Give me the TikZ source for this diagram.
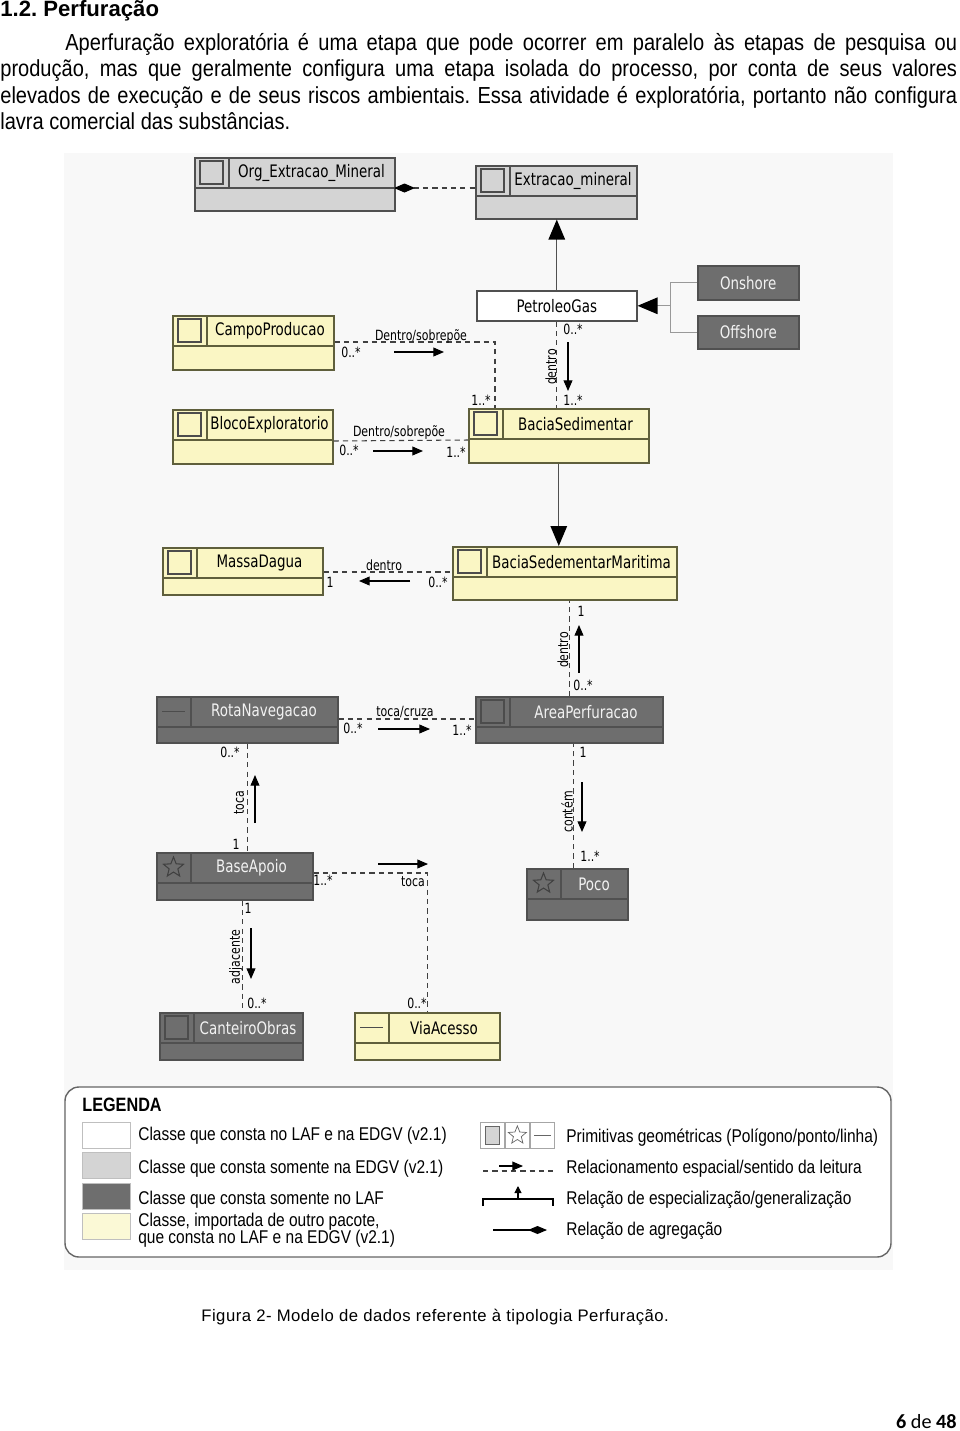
\documentclass[tikz,border=0pt]{standalone}
\usepackage{fontspec}
\setmainfont{Liberation Sans}
\newfontfamily\narrowfont[FakeStretch=0.865]{Liberation Sans}
\newfontfamily\legfont[FakeStretch=0.84]{Liberation Sans}
\newfontfamily\umlfont[FakeStretch=0.78]{DejaVu Sans}
\newfontfamily\pagefont{Carlito}
\usepackage{tikz}
\usetikzlibrary{positioning, arrows.meta, calc, shapes.geometric}
\definecolor{lgray}{RGB}{212,212,212}
\definecolor{dgray}{RGB}{110,110,110}
\definecolor{yel}{RGB}{250,246,196}
\definecolor{edge}{RGB}{80,80,80}
\definecolor{olive}{RGB}{95,95,60}
\definecolor{bg}{RGB}{248,248,248}
\frenchspacing

\tikzset{
  cls/.style={rectangle, anchor=north west, inner sep=0pt, line width=0.9pt},
  clslgray/.style={cls, draw=edge, fill=lgray},
  clsdgray/.style={cls, draw=edge, fill=dgray},
  clsyel/.style={cls, draw=olive, fill=yel},
  ctext/.style={font=\umlfont\fontsize{9.8}{11}\selectfont, inner sep=0pt},
  mult/.style={font=\umlfont\fontsize{8}{9}\selectfont, inner sep=0pt, anchor=base},
  rel/.style={draw=black!75, line width=0.6pt, dash pattern=on 3pt off 2.3pt},
  readdir/.style={line width=0.6pt, -{Triangle[length=6pt, width=5pt]}},
  gen/.style={draw=edge, line width=0.8pt, -{Triangle[length=0.4cm, width=0.33cm, color=black]}},
  agg/.style={rel, {Diamond[length=0.42cm, width=0.18cm, color=black]}-},
  icon/.style={draw=black!70, line width=0.7pt},
  body/.style={font=\narrowfont\fontsize{13.2}{15}\selectfont, anchor=base west, inner sep=0pt},
  legtext/.style={font=\legfont\fontsize{10.5}{12}\selectfont, anchor=base west, inner sep=0pt},
}

\begin{document}
\begin{tikzpicture}[x=0.02cm, y=-0.02cm]
\useasboundingbox (0,0) rectangle (960,1431);
\fill[bg] (64,153) rectangle (893,1270);

% text of the page
\node[body, font=\bfseries\fontsize{12.6}{15}\selectfont] (head) at (0,16.5) {1.2. Perfuração};
\node[body] (p1) at (65,50) {\makebox[17.84cm][s]{Aperfuração exploratória é uma etapa que pode ocorrer em paralelo às etapas de pesquisa ou}};
\node[body] (p2) at (0,76) {\makebox[19.14cm][s]{produção, mas que geralmente configura uma etapa isolada do processo, por conta de seus valores}};
\node[body] (p3) at (0,103) {\makebox[19.14cm][s]{elevados de execução e de seus riscos ambientais. Essa atividade é exploratória, portanto não configura}};
\node[body] (p4) at (0,129) {lavra comercial das substâncias.};

% classes
\foreach \n/\x/\y/\w/\h/\k/\c/\t in {
    org/194/157/200/53/clslgray/black/Org\_Extracao\_Mineral,
    extr/475/165/161/53/clslgray/black/Extracao\_mineral,
    campo/172/315/161/54/clsyel/black/CampoProducao,
    bloco/172/409/160/54/clsyel/black/BlocoExploratorio,
    bs/468/408/180/54/clsyel/black/BaciaSedimentar,
    md/162/547/160/47/clsyel/black/MassaDagua,
    bsm/452/546/224/53/clsyel/black/BaciaSedementarMaritima,
    rn/156/696/181/46/clsdgray/white!95!black/RotaNavegacao,
    ap/475/696/187/46/clsdgray/white!95!black/AreaPerfuracao,
    ba/156/852/156/47/clsdgray/white!95!black/BaseApoio,
    poco/526/868/101/51/clsdgray/white!95!black/Poco,
    ct/159/1012/143/47/clsdgray/white!95!black/CanteiroObras,
    via/354/1012/145/47/clsyel/black/ViaAcesso}
{
    \node[\k, minimum width=\w*0.02cm, minimum height=\h*0.02cm] (\n) at (\x,\y) {};
    \draw[\k, fill=none] ($(\n.north west)+(0,31)$) -- ++(\w,0);
    \draw[\k, fill=none] ($(\n.north west)+(35,0)$) -- ++(0,31);
    \node[ctext, text=\c] (\n-t) at ($(\n.north west)+({(\w+35)/2},16)$) {\t};
}

\node[cls, draw=edge, fill=white, minimum width=3.2cm, minimum height=0.6cm] (pg) at (476,290) {};
\node[ctext] (pg-t) at (pg.center) {PetroleoGas};
\node[clsdgray, minimum width=2.02cm, minimum height=0.68cm] (on) at (697,265) {};
\node[ctext, text=white!95!black] (on-t) at (on.center) {Onshore};
\node[clsdgray, minimum width=2.02cm, minimum height=0.66cm] (off) at (697,315) {};
\node[ctext, text=white!95!black] (off-t) at (off.center) {Offshore};

% geometry icons
\foreach \n in {org, extr, campo, bloco, bs, md, bsm, ap, ct}
    \draw[icon] ($(\n.north west)+(6,4)$) rectangle ++(23,23);
\foreach \n in {ba, poco}
    \node[star, star points=5, star point ratio=2.3, draw=black!75, line width=0.6pt,
          minimum size=0.42cm, inner sep=0pt] (\n-ic) at ($(\n.north west)+(17.5,15.5)$) {};
\foreach \n in {rn, via}
    \draw[icon] ($(\n.north west)+(6,15.5)$) -- ++(23,0);

% generalizations and aggregation
\coordinate (aggS) at ($(org.north west)+(200,31)$);
\draw[agg] (aggS) -- (aggS -| extr.west);
\draw[gen] (pg.north) -- (pg.north |- extr.south);
\coordinate (spl) at ($(pg.east)+(33,0)$);
\draw[draw=black!40, line width=0.8pt] (on.west) -| (spl) |- (off.west);
\draw[gen, draw=black!40] (spl) -- (pg.east);
\draw[gen] (bs.south) -- (bs.south |- bsm.north);

% spatial relations
\coordinate (pcT) at ($(poco.north)+(-4,0)$);
\coordinate (baB) at ($(ba.south)+(8,0)$);
\draw[rel] ($(campo.north east)+(0,27)$) -| ($(bs.north west)+(27,0)$);
\draw[rel] ($(bloco.north east)+(0,32)$) -- ($(bs.north west)+(0,32)$);
\draw[rel] (pg.south) -- (pg.south |- bs.north);
\draw[rel] ($(md.north east)+(0,25)$) -- ($(bsm.north west)+(0,26)$);
\draw[rel] (ap.north) -- (ap.north |- bsm.south);
\draw[rel] ($(rn.north east)+(0,23)$) -- ($(ap.north west)+(0,23)$);
\draw[rel] (rn.south) -- (rn.south |- ba.north);
\draw[rel] (pcT) -- (pcT |- ap.south);
\draw[rel] ($(ba.north east)+(0,21)$) -| (via.north);
\draw[rel] (baB) -- (baB |- ct.north);

% reading direction
\foreach \a/\b/\c/\d in {394/352/444/352, 373/451/423/451, 568/342/568/391,
    410/581/359/581, 579/673/579/625, 378/729/430/729, 255/823/255/775,
    582/782/582/832, 378/864/428/864, 251/928/251/979}
    \draw[readdir] (\a,\b) -- (\c,\d);

% role names and multiplicities
\foreach \x/\y/\t [count=\i] in {
    421/340/{Dentro/sobrepõe}, 351/357/0..*, 481/405/1..*,
    399/436/{Dentro/sobrepõe}, 349/455/0..*, 456/457/1..*,
    573/334/0..*, 573/405/1..*,
    384/570/dentro, 330/587/1, 438/587/0..*,
    581/616/1, 583/690/0..*,
    405/716/{toca/cruza}, 353/733/0..*, 462/735/1..*,
    230/757/0..*, 236/849/1,
    583/757/1, 590/861/1..*,
    413/886/toca, 323/885/1..*, 417/1008/0..*,
    248/913/1, 257/1008/0..*}
    \node[mult] (m\i) at (\x,\y) {\t};
\foreach \x/\y/\t [count=\i] in {551/367/dentro, 563/650/dentro, 239/803/toca,
    567/812/contém, 236/957/adjacente}
    \node[mult, anchor=center, rotate=90] (r\i) at (\x,\y) {\t};

% legend
\draw[draw=black!60, line width=0.8pt, fill=white, rounded corners=0.28cm] (65,1087) rectangle (891,1257);
\node[legtext, font=\legfont\bfseries\fontsize{11}{13}\selectfont] (leg) at (82,1111) {LEGENDA};
\foreach \y/\c [count=\i] in {1122/white, 1152/lgray, 1183/dgray, 1213/yel!70!white}
    \node[draw=black!25, fill=\c, anchor=north west, minimum width=0.96cm, minimum height=0.52cm, inner sep=0pt] (sw\i) at (82,\y) {};
\node[legtext] (lt1) at (138,1140) {Classe que consta no LAF e na EDGV (v2.1)};
\node[legtext] (lt2) at (138,1173) {Classe que consta somente na EDGV (v2.1)};
\node[legtext] (lt3) at (138,1204) {Classe que consta somente no LAF};
\node[legtext] (lt4) at (138,1226) {Classe, importada de outro pacote,};
\node[legtext] (lt5) at (138,1243) {que consta no LAF e na EDGV (v2.1)};

\foreach \x [count=\i] in {480,505,530}
    \node[draw=black!35, anchor=north west, minimum width=0.48cm, minimum height=0.52cm, inner sep=0pt] (lc\i) at (\x,1122) {};
\draw[draw=black!60, fill=lgray] ($(lc1.north west)+(5,4)$) rectangle ($(lc1.south east)+(-5,-4)$);
\node[star, star points=5, star point ratio=2.3, draw=black!60, minimum size=0.38cm, inner sep=0pt] (lc2-s) at (lc2.center) {};
\draw[draw=black!60] ($(lc3.west)+(4,0)$) -- ($(lc3.east)+(-4,0)$);
\draw[rel] (483,1171) -- (553,1171);
\draw[readdir] (499,1166) -- (523,1166);
\draw[line width=0.6pt] (483,1206) |- (553,1199) -- (553,1206);
\draw[-{Triangle[length=4pt, width=4pt]}, line width=0.6pt] (518,1199) -- (518,1186);
\draw[line width=0.8pt, -{Diamond[length=0.38cm, width=0.16cm]}] (493,1230) -- (547,1230);
\node[legtext] (lr1) at (566,1142) {Primitivas geométricas (Polígono/ponto/linha)};
\node[legtext] (lr2) at (566,1173) {Relacionamento espacial/sentido da leitura};
\node[legtext] (lr3) at (566,1204) {Relação de especialização/generalização};
\node[legtext] (lr4) at (566,1235) {Relação de agregação};

% caption and page number
\node[anchor=base west, inner sep=0pt, font=\addfontfeature{LetterSpace=3}\fontsize{9.5}{11}\selectfont] (cap) at (201,1321) {Figura 2- Modelo de dados referente à tipologia Perfuração.};
\node[anchor=base east, inner sep=0pt, font=\pagefont\fontsize{11.5}{13}\selectfont] (pnum) at (957,1428) {\textbf{6} de \textbf{48}};
\end{tikzpicture}
\end{document}
